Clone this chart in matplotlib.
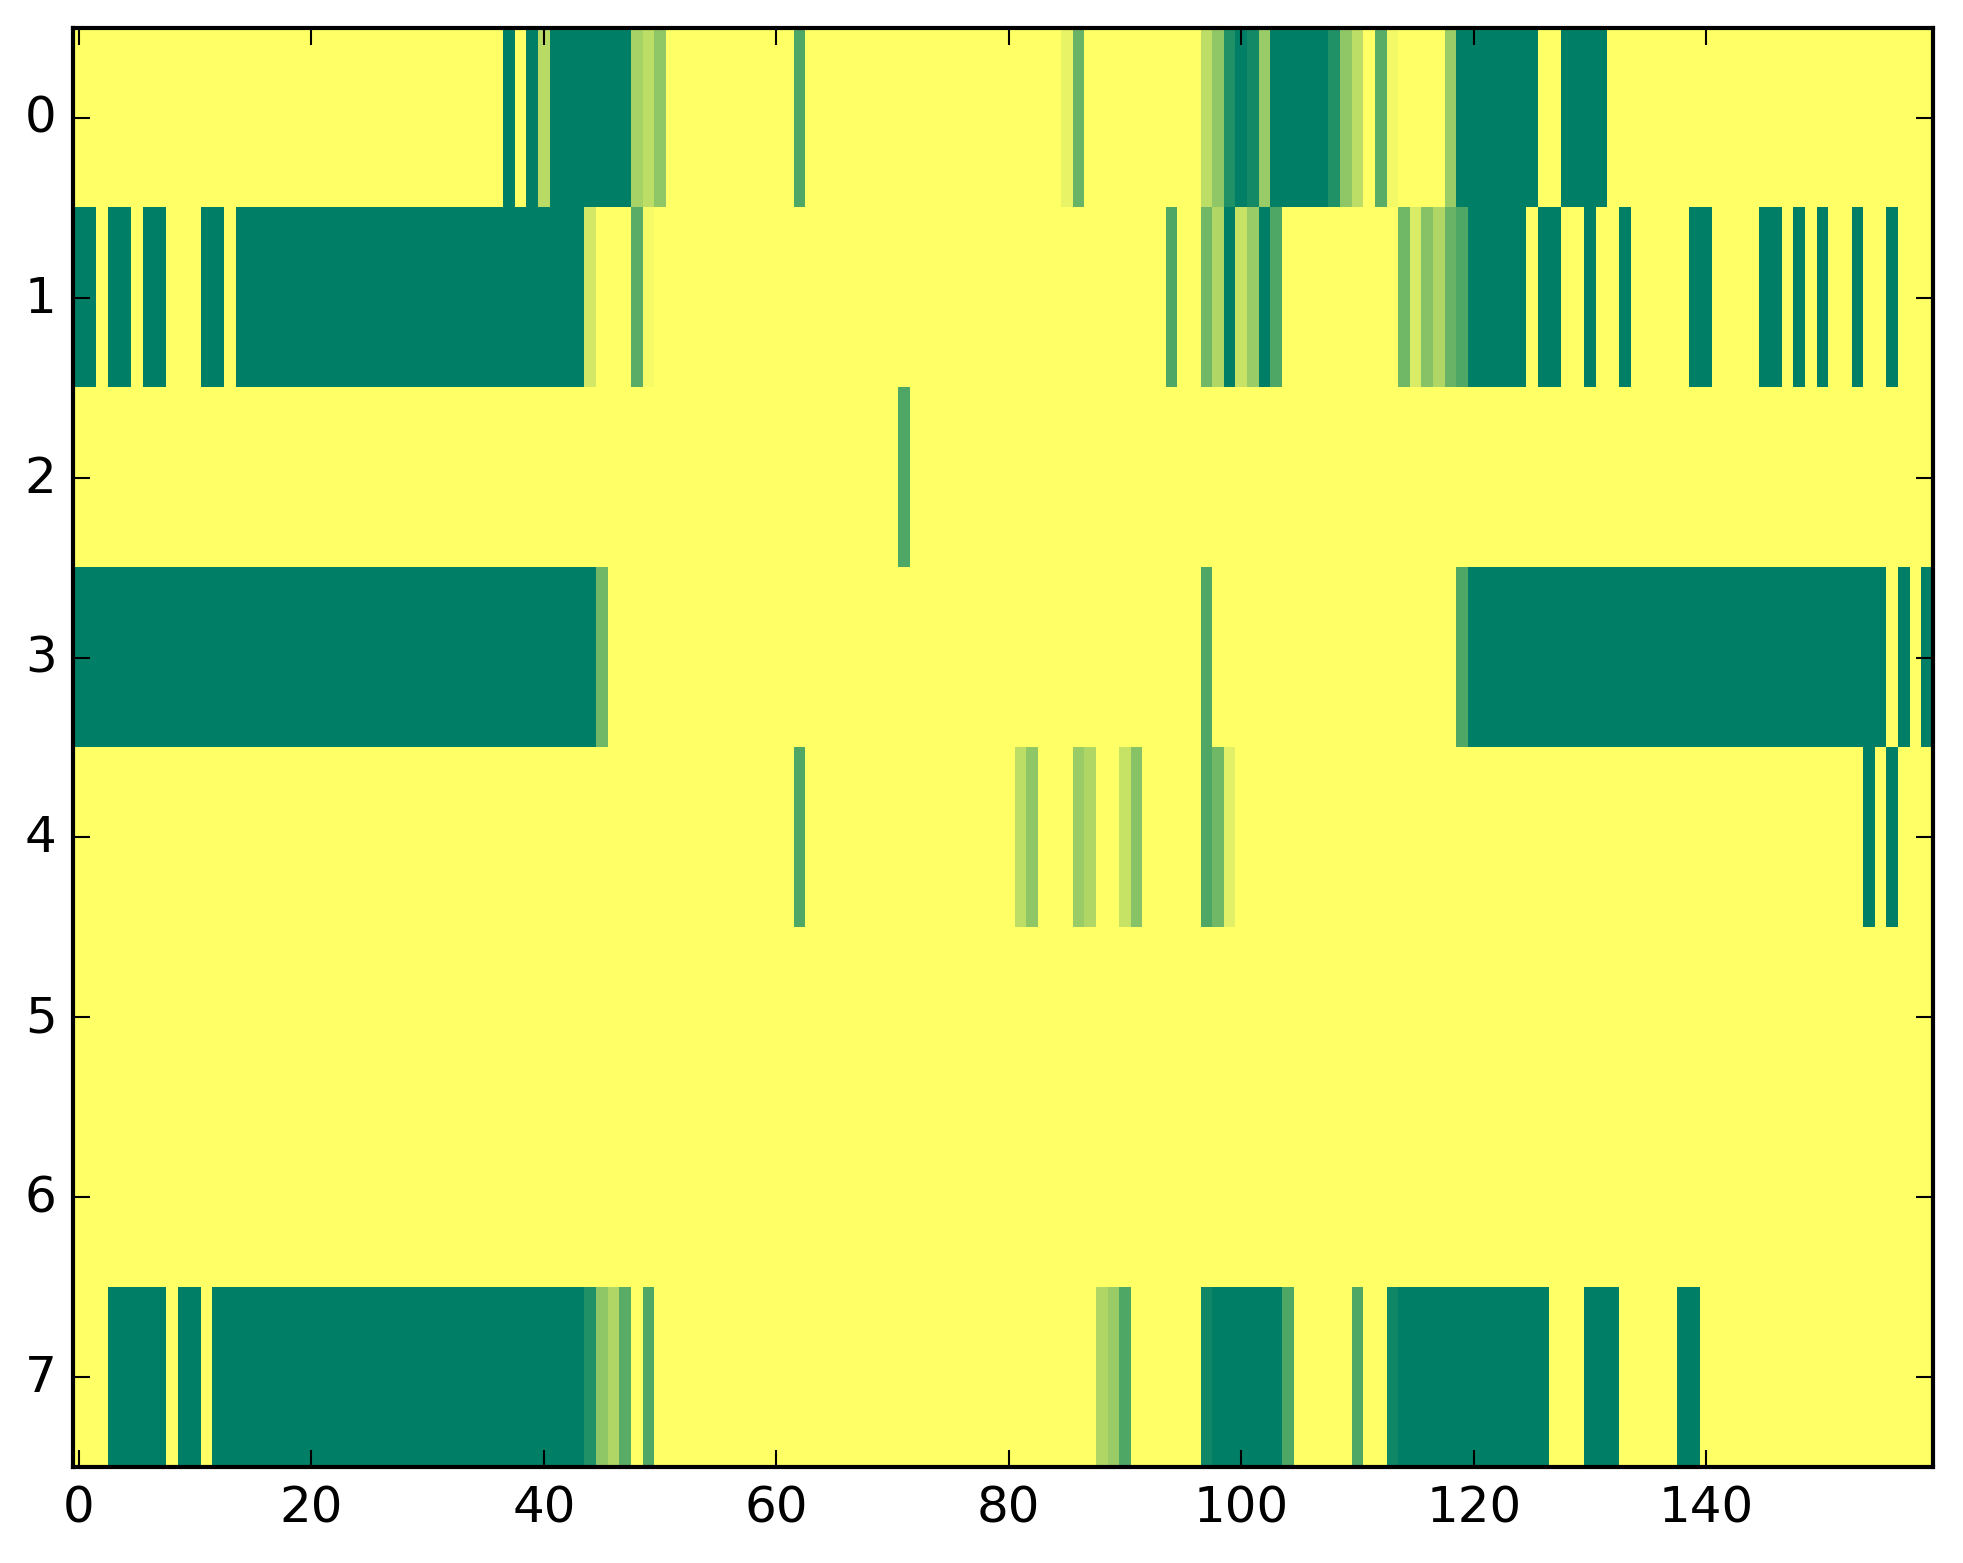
import numpy as np
import matplotlib
matplotlib.use("Agg")
from matplotlib import pyplot as plt

plt.style.use("classic")

# each row: (first column, last column, value) for the non-zero cells
row0 = [(37, 37, 1.0), (39, 39, 1.0), (40, 40, 0.28), (41, 47, 1.0),
        (48, 48, 0.35), (49, 49, 0.26), (50, 50, 0.44), (62, 62, 0.69),
        (85, 85, 0.09), (86, 86, 0.59), (97, 97, 0.26), (98, 98, 0.44),
        (99, 99, 0.87), (100, 100, 1.0), (101, 101, 0.92), (102, 102, 0.40),
        (103, 107, 1.0), (108, 108, 0.87), (109, 109, 0.44), (110, 110, 0.26),
        (112, 112, 0.65), (113, 113, 0.05), (118, 118, 0.40), (119, 125, 1.0),
        (128, 131, 1.0)]
row1 = [(0, 1, 1.0), (3, 4, 1.0), (6, 7, 1.0), (11, 12, 1.0), (14, 43, 1.0),
        (44, 44, 0.17), (48, 48, 0.65), (49, 49, 0.04), (94, 94, 0.69),
        (97, 97, 0.56), (98, 98, 0.31), (99, 99, 1.0), (100, 100, 0.22),
        (101, 101, 0.40), (102, 102, 1.0), (103, 103, 0.69), (114, 114, 0.56),
        (115, 115, 0.15), (116, 116, 0.47), (117, 117, 0.31), (118, 118, 0.59),
        (119, 119, 0.69), (120, 124, 1.0), (126, 127, 1.0), (130, 130, 1.0),
        (133, 133, 1.0), (139, 140, 1.0), (145, 146, 1.0), (148, 148, 1.0),
        (150, 150, 1.0), (153, 153, 1.0), (156, 156, 1.0)]
row2 = [(71, 71, 0.69)]
row3 = [(0, 44, 1.0), (45, 45, 0.56), (97, 97, 0.69), (119, 119, 0.69),
        (120, 155, 1.0), (157, 157, 1.0), (159, 159, 1.0)]
row4 = [(62, 62, 0.69), (81, 81, 0.26), (82, 82, 0.44), (86, 86, 0.40),
        (87, 87, 0.31), (90, 90, 0.22), (91, 91, 0.47), (97, 97, 0.69),
        (98, 98, 0.56), (99, 99, 0.12), (154, 154, 1.0), (156, 156, 1.0)]
row5 = []
row6 = []
row7 = [(3, 7, 1.0), (9, 10, 1.0), (12, 43, 1.0), (44, 44, 0.87),
        (45, 45, 0.44), (46, 46, 0.31), (47, 47, 0.65), (49, 49, 0.69),
        (88, 88, 0.31), (89, 89, 0.40), (90, 90, 0.69), (97, 97, 0.94),
        (98, 103, 1.0), (104, 104, 0.69), (110, 110, 0.69), (113, 113, 0.94),
        (114, 126, 1.0), (130, 132, 1.0), (138, 139, 1.0)]

n_cols = 160
x_ticks = [0, 20, 40, 60, 80, 100, 120, 140]
y_ticks = [0, 1, 2, 3, 4, 5, 6, 7]

rows = [row0, row1, row2, row3, row4, row5, row6, row7]
grid = np.zeros((len(rows), n_cols))
for r, segs in enumerate(rows):
    for a, b, v in segs:
        grid[r, a:b + 1] = v

fig = plt.figure(figsize=(1963 / 300, 1564 / 300), dpi=300, facecolor="white")
ax = fig.add_axes([0.0373, 0.0614, 0.9473, 0.9201])
ax.imshow(grid, cmap="summer_r", vmin=0, vmax=1, aspect="auto",
          interpolation="nearest")
ax.set_xlim(-0.5, n_cols - 0.5)
ax.set_ylim(len(rows) - 0.5, -0.5)
ax.set_xticks(x_ticks)
ax.set_yticks(y_ticks)
ax.tick_params(direction="in", top=True, right=True, labelsize=12)

fig.savefig("out.png", dpi=300, facecolor="white")
